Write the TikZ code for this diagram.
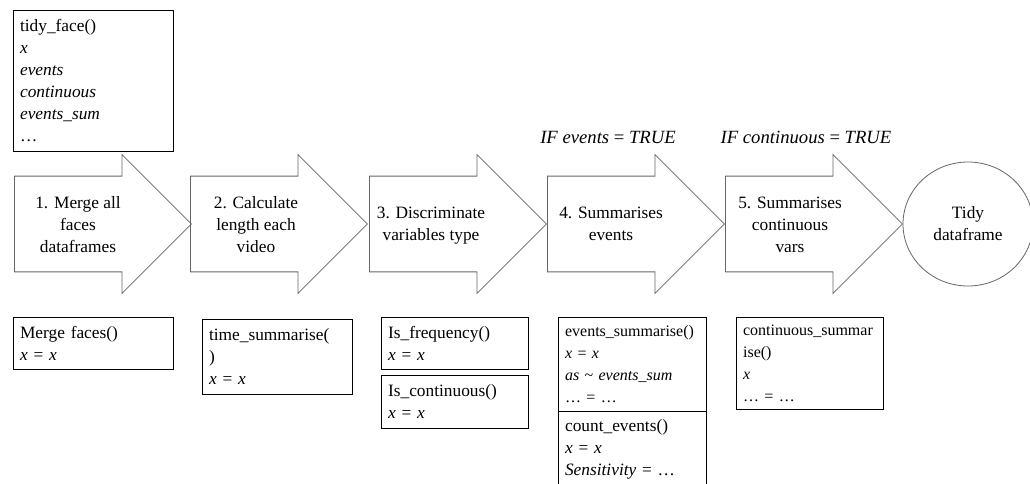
\documentclass[tikz,border=0pt]{standalone}
\usepackage{fontspec}
\setmainfont{Liberation Serif}
\usetikzlibrary{shapes.arrows,shapes.geometric}
\tikzset{
  stepbox/.style={single arrow, draw=gray!80!black, line width=0.6pt,
    single arrow tip angle=90, single arrow head extend=16.1pt,
    single arrow head indent=0pt, minimum height=132.75pt,
    inner xsep=0pt, inner ysep=35.6pt, anchor=tail},
  steptext/.style={align=center},
  funbox/.style={draw, line width=0.6pt, anchor=north west, align=left,
    inner xsep=5pt, inner ysep=0pt}
}
\begin{document}
\begin{tikzpicture}[x=0.75pt,y=-0.75pt]
\fontsize{13}{16.5}\selectfont
\useasboundingbox (0,0) rectangle (1030,483);
\clip (0,0) rectangle (1030,483);

\node[funbox, text width=110pt, minimum height=105.75pt] (tidyface) at (13,10)
  {tidy\_face()\\\textit{x}\\\textit{events}\\\textit{continuous}\\\textit{events\_sum}\\\ldots};

\node[stepbox] (a1) at (14,224) {};
\node[stepbox] (a2) at (190,224) {};
\node[stepbox] (a3) at (369,224) {};
\node[stepbox] (a4) at (547,224) {};
\node[stepbox] (a5) at (725,224) {};
\node[draw=gray!80!black, line width=0.6pt, ellipse, align=center,
  minimum width=97.5pt, minimum height=93pt] (tidy) at (968,224) {Tidy\\dataframe};

\node[steptext] (t1) at (78,225) {1. Merge all\\faces\\dataframes};
\node[steptext] (t2) at (256,225) {2. Calculate\\length each\\video};
\node[steptext] (t3) at (431,226) {3. Discriminate\\variables type};
\node[steptext] (t4) at (611,224) {4. Summarises\\events};
\node[steptext] (t5) at (790,225) {5. Summarises\\continuous\\vars};

\node[font=\fontsize{14}{16.5}\selectfont] (if4) at (608,137) {\textit{IF events} = \textit{TRUE}};
\node[font=\fontsize{14}{16.5}\selectfont] (if5) at (806,137) {\textit{IF continuous} = \textit{TRUE}};

\node[funbox, text width=110pt, minimum height=39pt] (merge) at (13,317)
  {Merge faces()\\\textit{x} = \textit{x}};
\node[funbox, text width=102.5pt, minimum height=56.25pt] (time) at (202,319)
  {time\_summarise(\\)\\\textit{x} = \textit{x}};
\node[funbox, text width=100.25pt, minimum height=39pt] (isfreq) at (381,317)
  {Is\_frequency()\\\textit{x} = \textit{x}};
\node[funbox, text width=100.25pt, minimum height=39.75pt] (iscont) at (381,375)
  {Is\_continuous()\\\textit{x} = \textit{x}};
\node[funbox, text width=101pt, minimum height=70.5pt, font=\fontsize{12}{16.5}\selectfont] (evsum) at (558,317)
  {events\_summarise()\\\textit{x} = \textit{x}\\\textit{as} \textasciitilde{} \textit{events\_sum}\\\ldots{} = \ldots};
\node[funbox, text width=101pt, minimum height=56.25pt] (count) at (558,411)
  {count\_events()\\\textit{x} = \textit{x}\\\textit{Sensitivity} = \ldots};
\node[funbox, text width=100.25pt, minimum height=69pt, font=\fontsize{12}{16.5}\selectfont] (contsum) at (736,317)
  {continuous\_summar\\ise()\\\textit{x}\\\ldots{} = \ldots};
\end{tikzpicture}
\end{document}
